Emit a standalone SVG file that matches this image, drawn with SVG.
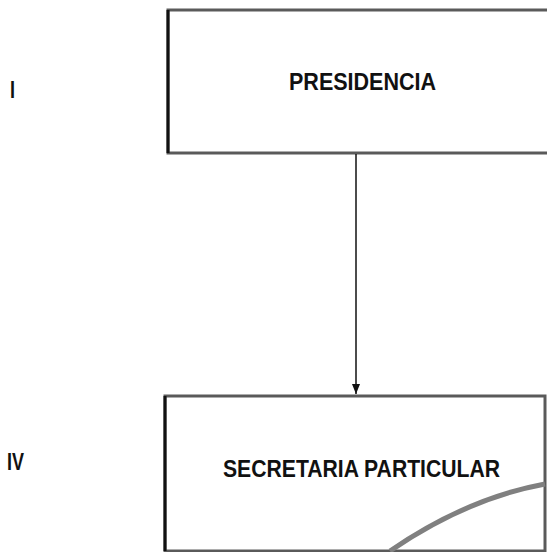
<svg xmlns="http://www.w3.org/2000/svg" width="547" height="552" viewBox="0 0 547 552">
<style>
.box{fill:#fff;stroke:#5a5a5a;stroke-width:3}
.edge{stroke:#111;stroke-width:3}
.t{font-family:"Liberation Sans",Arial,sans-serif;font-weight:bold;font-size:24px;fill:#111}
.lvl{font-family:"Liberation Sans",Arial,sans-serif;font-weight:bold;font-size:23px;fill:#111}
</style>
<defs>
<marker id="ah" markerWidth="10" markerHeight="8" refX="10" refY="4" orient="auto" markerUnits="userSpaceOnUse" viewBox="0 0 10 8">
<path d="M0,0 L10,4 L0,8 Z" fill="#111"/>
</marker>
</defs>
<text class="lvl" x="10" y="98" textLength="5" lengthAdjust="spacingAndGlyphs">I</text>
<text class="lvl" x="7" y="470" textLength="17" lengthAdjust="spacingAndGlyphs">IV</text>
<g id="presidencia">
<rect class="box" x="168" y="10" width="400" height="143"/>
<line class="edge" x1="168" y1="10" x2="168" y2="153"/>
<text class="t" x="289" y="90" textLength="147" lengthAdjust="spacingAndGlyphs">PRESIDENCIA</text>
</g>
<g id="secretaria">
<rect class="box" x="165" y="396" width="380" height="155"/>
<line class="edge" x1="165" y1="396" x2="165" y2="551"/>
<text class="t" x="223" y="477" textLength="277" lengthAdjust="spacingAndGlyphs">SECRETARIA PARTICULAR</text>
<path d="M390,551 Q466.5,498.5 545,484" fill="none" stroke="#808080" stroke-width="5"/>
</g>
<g id="connectors">
<line x1="356" y1="154" x2="356" y2="394" stroke="#111" stroke-width="1.5" marker-end="url(#ah)"/>
</g>
</svg>
